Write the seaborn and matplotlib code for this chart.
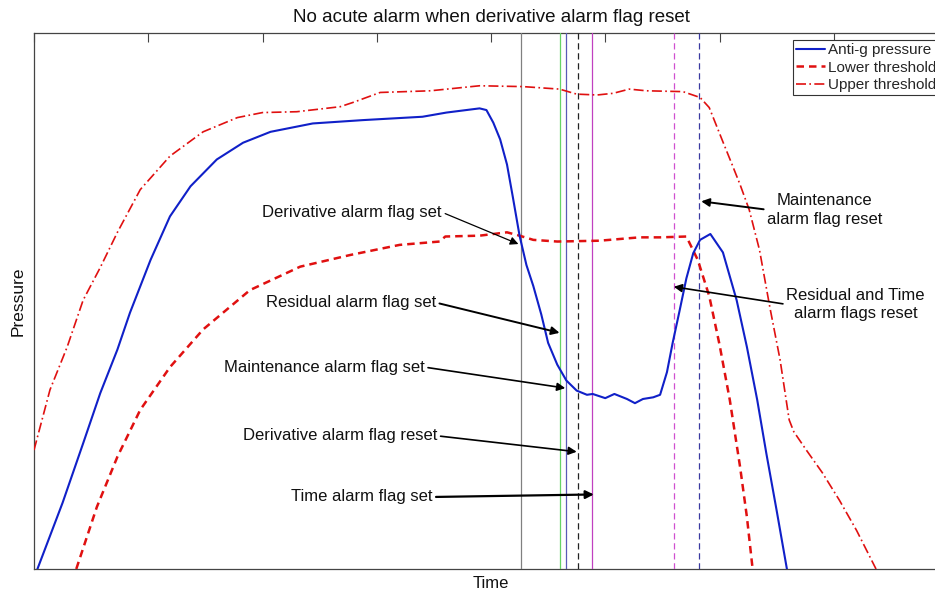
import numpy as np
import pandas as pd
import matplotlib
matplotlib.use("Agg")
import matplotlib.pyplot as plt
import seaborn as sns

# ---------------- data ----------------
pressure_t = [0.03, 0.25, 0.43, 0.58, 0.73, 0.84, 1.02, 1.19, 1.37, 1.60, 1.83, 2.07, 2.44, 2.88,
              3.40, 3.61, 3.90, 3.96, 4.02, 4.08, 4.14, 4.19, 4.25, 4.31, 4.37, 4.44, 4.50, 4.58,
              4.66, 4.75, 4.84, 4.89, 5.00, 5.08, 5.19, 5.26, 5.33, 5.42, 5.48, 5.54, 5.59, 5.65,
              5.71, 5.77, 5.83, 5.92, 6.03, 6.15, 6.24, 6.33, 6.41, 6.50, 6.59]
pressure_v = [-0.20, 0.59, 1.30, 1.90, 2.42, 2.86, 3.49, 4.01, 4.37, 4.69, 4.89, 5.02, 5.12, 5.16,
              5.20, 5.25, 5.30, 5.28, 5.13, 4.93, 4.63, 4.25, 3.78, 3.43, 3.18, 2.84, 2.50, 2.24,
              2.05, 1.93, 1.88, 1.89, 1.84, 1.89, 1.83, 1.78, 1.83, 1.85, 1.88, 2.15, 2.50, 2.88,
              3.27, 3.57, 3.73, 3.80, 3.58, 3.01, 2.45, 1.82, 1.18, 0.50, -0.20]

lower_t = [0.37, 0.55, 0.73, 0.93, 1.19, 1.48, 1.89, 2.33, 2.77, 3.20, 3.55, 3.60, 3.90, 4.14,
           4.25, 4.37, 4.58, 4.95, 5.30, 5.48, 5.71, 5.81, 5.91, 6.00, 6.09, 6.18, 6.24, 6.29]
lower_v = [-0.20, 0.54, 1.14, 1.70, 2.21, 2.66, 3.13, 3.41, 3.55, 3.67, 3.71, 3.77, 3.78, 3.82,
           3.78, 3.73, 3.71, 3.72, 3.76, 3.76, 3.77, 3.49, 3.06, 2.48, 1.82, 1.02, 0.42, -0.20]

upper_t = [0.00, 0.14, 0.29, 0.43, 0.58, 0.73, 0.93, 1.19, 1.48, 1.78, 2.00, 2.30, 2.68, 2.79,
           3.03, 3.47, 3.90, 4.28, 4.60, 4.75, 4.93, 5.07, 5.21, 5.36, 5.68, 5.83, 5.91, 6.03,
           6.11, 6.18, 6.26, 6.35, 6.44, 6.53, 6.61, 6.65, 6.76, 6.90, 7.05, 7.20, 7.37]
upper_v = [1.22, 1.94, 2.45, 3.01, 3.40, 3.82, 4.33, 4.73, 5.02, 5.19, 5.25, 5.26, 5.32, 5.37,
           5.49, 5.51, 5.57, 5.56, 5.53, 5.47, 5.46, 5.48, 5.53, 5.51, 5.50, 5.43, 5.31, 4.90,
           4.63, 4.39, 4.09, 3.61, 2.93, 2.30, 1.58, 1.44, 1.22, 0.95, 0.62, 0.26, -0.20]

# event markers (vertical lines)
event_t = [4.26, 4.60, 4.66, 4.76, 4.88, 5.60, 5.82]
event_colors = ["#808080", "#66d466", "#5a5ab8", "#222222", "#c040c0", "#d050d0", "#3a3aa0"]
event_styles = ["-", "-", "-", "--", "-", "--", "--"]

# annotations: text, text anchor, arrow tip
ann_texts = ["Derivative alarm flag set", "Residual alarm flag set", "Maintenance alarm flag set",
             "Derivative alarm flag reset", "Time alarm flag set",
             "Maintenance\nalarm flag reset", "Residual and Time\nalarm flags reset"]
ann_text_xy = [(3.57, 4.06), (3.52, 2.98), (3.42, 2.21), (3.53, 1.39), (3.49, 0.66),
               (6.92, 4.09), (7.19, 2.96)]
ann_tip_xy = [(4.24, 3.68), (4.60, 2.62), (4.65, 1.96), (4.75, 1.20), (4.90, 0.69),
              (5.84, 4.19), (5.60, 3.17)]
ann_ha = ["right", "right", "right", "right", "right", "center", "center"]
ann_lw = [0.9, 1.4, 1.2, 1.2, 1.6, 1.4, 1.2]

x_ticks = list(range(0, 9))
y_ticks = list(range(0, 7))

# ---------------- figure ----------------
sns.set_theme(style="white")
plt.rcParams["font.family"] = ["Liberation Sans", "DejaVu Sans"]

fig = plt.figure(figsize=(9.35, 5.93), dpi=100)
ax = fig.add_axes([34 / 935, 1 - 569 / 593, 914 / 935, 536 / 593])

df_p = pd.DataFrame({"t": pressure_t, "v": pressure_v})
df_l = pd.DataFrame({"t": lower_t, "v": lower_v})
df_u = pd.DataFrame({"t": upper_t, "v": upper_v})

sns.lineplot(data=df_p, x="t", y="v", ax=ax, color="#1020c8", lw=1.5, sort=False,
             estimator=None, label="Anti-g pressure", zorder=5)
sns.lineplot(data=df_l, x="t", y="v", ax=ax, color="#e01010", lw=1.8, sort=False,
             estimator=None, label="Lower threshold", zorder=4)
sns.lineplot(data=df_u, x="t", y="v", ax=ax, color="#e01010", lw=1.2, sort=False,
             estimator=None, label="Upper threshold", zorder=4)
lines = ax.get_lines()
lines[1].set_dashes([3, 2])
lines[2].set_dashes([6, 2, 1, 2])

for t, c, s in zip(event_t, event_colors, event_styles):
    ln = ax.axvline(t, color=c, lw=0.9, zorder=3)
    if s == "--":
        ln.set_dashes([5, 3])

for txt, xyt, tip, ha, lw in zip(ann_texts, ann_text_xy, ann_tip_xy, ann_ha, ann_lw):
    rel = (1.0, 0.5) if ha == "right" else (0.0, 0.5)
    ax.annotate(txt, xy=tip, xytext=xyt, ha=ha, va="center", fontsize=12,
                color="#111111", linespacing=1.3,
                arrowprops=dict(arrowstyle="-|>", color="black", lw=lw, relpos=rel,
                                mutation_scale=12, shrinkA=0, shrinkB=0), zorder=6)

ax.set_xlim(0, 8)
ax.set_ylim(-0.2, 6.2)
ax.set_xticks(x_ticks)
ax.set_yticks(y_ticks)
ax.tick_params(direction="in", top=True, right=True, length=6.5, width=0.8,
               color="#444444", labelbottom=False, labelleft=False)
for sp in ax.spines.values():
    sp.set_visible(True)
    sp.set_color("#444444")
    sp.set_linewidth(0.9)

ax.set_title("No acute alarm when derivative alarm flag reset", fontsize=13.5, pad=8,
             color="#111111")
ax.set_xlabel("Time", fontsize=12, labelpad=5, color="#111111")
ax.set_ylabel("Pressure", fontsize=12.5, labelpad=6, color="#111111")

leg = ax.legend(loc="upper left", bbox_to_anchor=(793 / 935, 1 - 40 / 593),
                bbox_transform=fig.transFigure, fontsize=11, frameon=True, fancybox=False,
                framealpha=1, edgecolor="#333333", borderpad=0.22, labelspacing=0.22,
                handlelength=1.85, handletextpad=0.25, borderaxespad=0)
leg.get_frame().set_linewidth(0.8)

fig.savefig("out.png", dpi=100)
